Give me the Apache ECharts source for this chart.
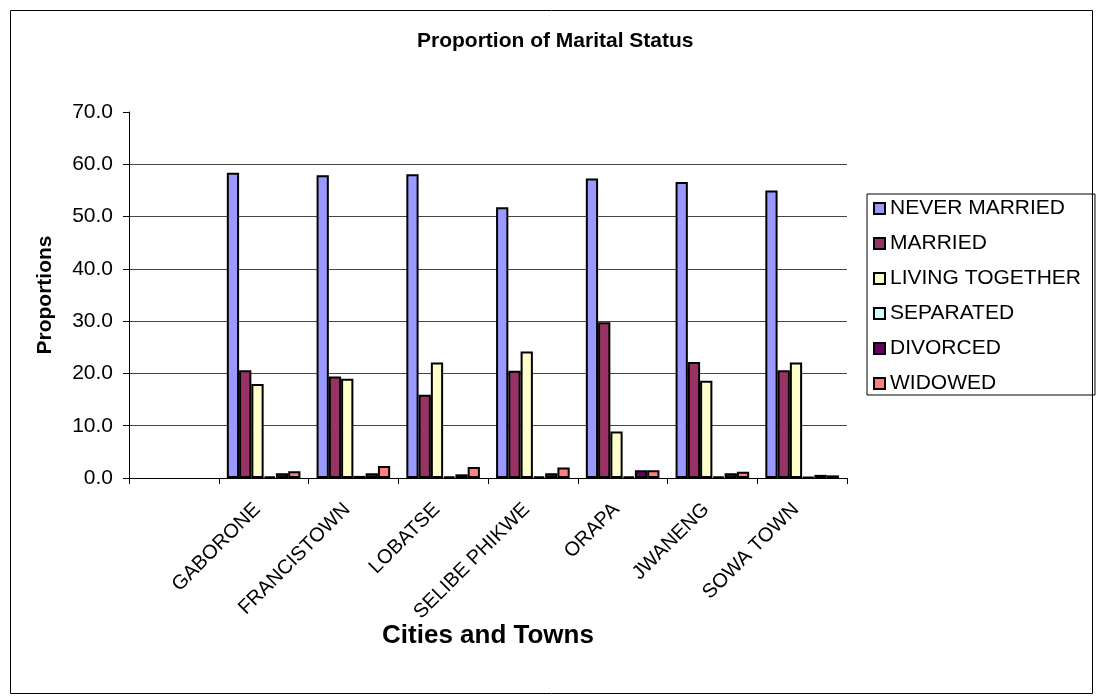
<!DOCTYPE html>
<html>
<head>
<meta charset="utf-8">
<script src="https://cdn.jsdelivr.net/npm/echarts@6/dist/echarts.min.js"></script>
<style>
html,body{margin:0;padding:0;background:#fff;}
#chart{width:1098px;height:700px;}
</style>
</head>
<body>
<div id="chart"></div>
<script>
const categories = ['', 'GABORONE', 'FRANCISTOWN', 'LOBATSE', 'SELIBE PHIKWE', 'ORAPA', 'JWANENG', 'SOWA TOWN'];
const seriesNames = ['NEVER MARRIED', 'MARRIED', 'LIVING TOGETHER', 'SEPARATED', 'DIVORCED', 'WIDOWED'];
const neverMarried   = [null, 58.4, 57.9, 58.1, 51.8, 57.3, 56.6, 55.0];
const married        = [null, 20.6, 19.4, 15.9, 20.5, 29.8, 22.2, 20.6];
const livingTogether = [null, 18.0, 19.0, 22.1, 24.2, 8.9, 18.6, 22.1];
const separated      = [null, 0.3, 0.4, 0.3, 0.3, 0.3, 0.3, 0.2];
const divorced       = [null, 0.9, 0.9, 0.7, 0.9, 1.5, 0.9, 0.6];
const widowed        = [null, 1.3, 2.3, 2.1, 2.0, 1.5, 1.2, 0.5];
const yTicks = [0, 10, 20, 30, 40, 50, 60, 70];

const colors = ['#9999FF', '#993366', '#FFFFCC', '#CCFFFF', '#660066', '#FF8080'];
const allData = [neverMarried, married, livingTogether, separated, divorced, widowed];
const FONT = '"Liberation Sans", Arial, sans-serif';

const chart = echarts.init(document.getElementById('chart'));
chart.setOption({
  animation: false,
  backgroundColor: '#fff',
  textStyle: { fontFamily: FONT, color: '#000' },
  title: {
    text: 'Proportion of Marital Status',
    left: 417, top: 31, padding: 0,
    textStyle: { fontFamily: FONT, fontSize: 21, fontWeight: 'bold', color: '#000' }
  },
  graphic: [{
    type: 'rect', left: 8, top: 8, z: -1,
    shape: { x: 0, y: 0, width: 1082, height: 683 },
    style: { fill: 'none', stroke: '#000', lineWidth: 1 }
  }],
  legend: {
    orient: 'vertical',
    left: 867, top: 194,
    padding: [4, 14, 1, 6],
    itemWidth: 11, itemHeight: 11,
    itemGap: 14,
    icon: 'rect',
    borderColor: '#000', borderWidth: 1,
    textStyle: { fontFamily: FONT, fontSize: 21, lineHeight: 20, color: '#000' },
    data: seriesNames
  },
  grid: { left: 129, right: 251, top: 112, bottom: 222, containLabel: false },
  xAxis: {
    type: 'category',
    data: categories,
    boundaryGap: true,
    name: 'Cities and Towns',
    nameLocation: 'middle',
    nameGap: 145,
    nameMoveOverlap: false,
    nameTextStyle: { fontFamily: FONT, fontSize: 26, fontWeight: 'bold', color: '#000' },
    axisLine: { lineStyle: { color: '#000', width: 1 } },
    axisTick: { show: true, length: 6, alignWithLabel: false, lineStyle: { color: '#000' } },
    axisLabel: { interval: 0, rotate: 45, margin: 22, padding: [0, 9, 0, 0],
      fontFamily: FONT, fontSize: 20, color: '#000' },
    splitLine: { show: false }
  },
  yAxis: {
    type: 'value',
    min: yTicks[0], max: yTicks[yTicks.length - 1], interval: 10,
    name: 'Proportions',
    nameLocation: 'middle',
    nameGap: 73,
    nameMoveOverlap: false,
    nameTextStyle: { fontFamily: FONT, fontSize: 21, fontWeight: 'bold', color: '#000' },
    axisLine: { show: true, lineStyle: { color: '#000', width: 1 } },
    axisTick: { show: true, length: 6, lineStyle: { color: '#000' } },
    axisLabel: { margin: 16, fontFamily: FONT, fontSize: 21, color: '#000',
      formatter: v => v.toFixed(1) },
    splitLine: { show: true, showMaxLine: false, lineStyle: { color: '#444', width: 1 } }
  },
  series: seriesNames.map((name, i) => ({
    name: name,
    type: 'bar',
    data: allData[i],
    barGap: '0%',
    barCategoryGap: '18%',
    itemStyle: { color: colors[i], borderColor: '#000', borderWidth: 2 }
  }))
});
</script>
</body>
</html>
